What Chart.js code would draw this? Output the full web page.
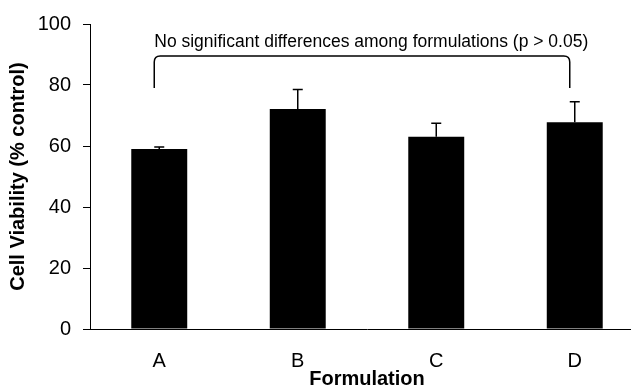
<!DOCTYPE html>
<html>
<head>
<meta charset="utf-8">
<script src="https://cdn.jsdelivr.net/npm/chart.js@4.4.1/dist/chart.umd.min.js"></script>
<style>
  html, body { margin: 0; padding: 0; background: #fff; overflow: hidden; }
  #wrap { width: 631px; height: 387px; overflow: hidden; }
</style>
</head>
<body>
<div id="wrap"><canvas id="chart" width="650" height="387"></canvas></div>
<script>
// data
const categories = ['A', 'B', 'C', 'D'];
const viability = [59.0, 72.1, 63.0, 67.8];
const errorUp = [0.7, 6.4, 4.5, 6.7];
const yTicks = [0, 20, 40, 60, 80, 100];
const note = 'No significant differences among formulations (p > 0.05)';

const FONT = '"Liberation Sans", Arial, sans-serif';

// upper error bars on top of each bar
const errorBars = {
    id: 'errorBars',
    afterDatasetsDraw(chart) {
        const ctx = chart.ctx;
        const y = chart.scales.y;
        const meta = chart.getDatasetMeta(0);
        ctx.save();
        ctx.strokeStyle = '#000';
        ctx.lineWidth = 1.5;
        meta.data.forEach((bar, i) => {
            const top = y.getPixelForValue(viability[i] + errorUp[i]);
            ctx.beginPath();
            ctx.moveTo(bar.x, bar.y);
            ctx.lineTo(bar.x, top);
            ctx.moveTo(bar.x - 5, top);
            ctx.lineTo(bar.x + 5, top);
            ctx.stroke();
        });
        ctx.restore();
    }
};

// bracket + note spanning A..D
const bracket = {
    id: 'bracket',
    afterDraw(chart) {
        const ctx = chart.ctx;
        const x = chart.scales.x, y = chart.scales.y;
        const xl = x.getPixelForValue(0) - 5;
        const xr = x.getPixelForValue(3) - 5;
        const yt = y.getPixelForValue(89.5);
        const yb = y.getPixelForValue(79);
        const r = 6;
        ctx.save();
        ctx.strokeStyle = '#000';
        ctx.lineWidth = 1.5;
        ctx.beginPath();
        ctx.moveTo(xl, yb);
        ctx.lineTo(xl, yt + r);
        ctx.quadraticCurveTo(xl, yt, xl + r, yt);
        ctx.lineTo(xr - r, yt);
        ctx.quadraticCurveTo(xr, yt, xr, yt + r);
        ctx.lineTo(xr, yb);
        ctx.stroke();
        ctx.fillStyle = '#000';
        ctx.font = '17.5px ' + FONT;
        ctx.textAlign = 'left';
        ctx.textBaseline = 'alphabetic';
        ctx.fillText(note, xl, yt - 9);
        ctx.restore();
    }
};

new Chart(document.getElementById('chart'), {
    type: 'bar',
    data: {
        labels: categories,
        datasets: [{
            data: viability,
            backgroundColor: '#000',
            borderWidth: 0,
            categoryPercentage: 1,
            barPercentage: 0.404
        }]
    },
    options: {
        responsive: false,
        animation: false,
        devicePixelRatio: 1,
        layout: { padding: { top: 22, right: 6, left: 0, bottom: 0 } },
        plugins: { legend: { display: false }, tooltip: { enabled: false } },
        scales: {
            x: {
                grid: { display: false, drawTicks: false },
                border: { display: true, color: '#000', width: 1 },
                ticks: { color: '#000', padding: 20, font: { family: FONT, size: 20 } },
                title: {
                    display: true, text: 'Formulation', color: '#000',
                    padding: { top: 0, bottom: -4 },
                    font: { family: FONT, size: 20, weight: 'bold' }
                },
                afterFit: s => { s.height = 58; }
            },
            y: {
                min: 0, max: 100,
                afterBuildTicks: s => { s.ticks = yTicks.map(v => ({ value: v })); },
                grid: { drawOnChartArea: false, drawTicks: true, tickLength: 7, tickColor: '#000' },
                border: { display: true, color: '#000', width: 1 },
                ticks: { color: '#000', padding: 12, font: { family: FONT, size: 20 } },
                title: {
                    display: true, text: 'Cell Viability (% control)', color: '#000',
                    padding: { top: 6, bottom: 0 },
                    font: { family: FONT, size: 20, weight: 'bold' }
                },
                afterFit: s => { s.width = 90; }
            }
        }
    },
    plugins: [errorBars, bracket]
});
</script>
</body>
</html>
